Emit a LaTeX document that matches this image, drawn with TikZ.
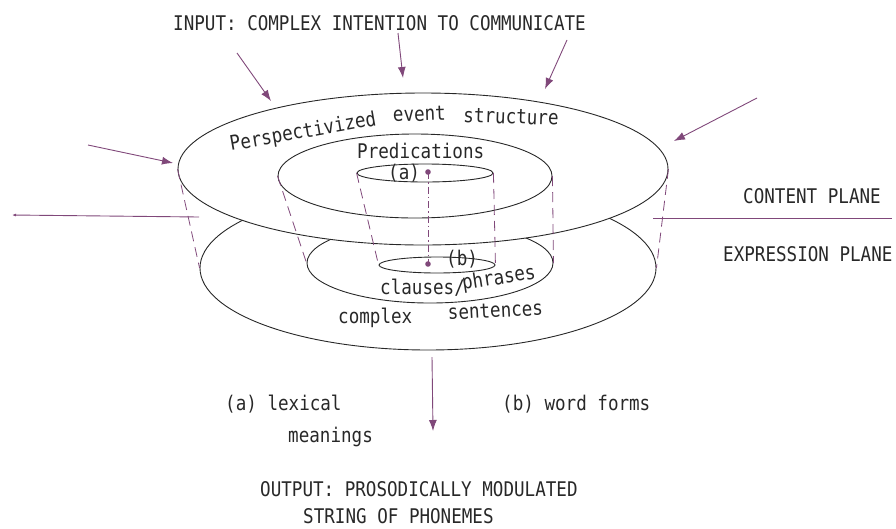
\documentclass[tikz,border=0pt]{standalone}
\usepackage{fontspec}
\newfontfamily\typewriter[FakeStretch=0.87]{DejaVu Sans Mono}
\usetikzlibrary{shapes.geometric,arrows.meta}

\definecolor{inkpurple}{RGB}{128,72,122}
\definecolor{pencil}{RGB}{40,40,40}

\tikzset{
    disk/.style={ellipse, draw=pencil, line width=0.9pt, inner sep=0pt},
    plane/.style={inkpurple, line width=0.9pt},
    inarrow/.style={plane, -{Latex[length=11pt,width=8pt]}},
    rim/.style={inkpurple, line width=0.8pt, dash pattern=on 10pt off 6pt},
    axis/.style={inkpurple, line width=1pt, dash pattern=on 7pt off 3pt on 1.5pt off 3pt},
    typed/.style={font=\typewriter\fontsize{20.2}{24}\selectfont, text=pencil, inner sep=0pt, anchor=base west},
}

\begin{document}
\begin{tikzpicture}[x=1pt,y=-1pt]
                \useasboundingbox (0,0) rectangle (896,528);

                % expression plane (lower layer)
                \node[disk, minimum width=456pt, minimum height=164pt] (BotOuter) at (428,268) {};
                \node[disk, minimum width=246pt, minimum height=80pt] (BotMid) at (430,263) {};
                \node[disk, minimum width=116pt, minimum height=16pt] (BotIn) at (437,265) {};

                % content plane (upper layer), covers the back of the lower one
                \node[disk, fill=white, minimum width=490pt, minimum height=152pt] (TopOuter) at (423,169) {};
                \node[disk, minimum width=274pt, minimum height=84pt] (TopMid) at (415,176) {};
                \node[disk, minimum width=136pt, minimum height=18pt] (TopIn) at (425,173) {};

                % rims between the two planes
                \foreach \ring in {Outer, Mid, In} {
                    \draw[rim] (Top\ring.west) -- (Bot\ring.west);
                    \draw[rim] (Top\ring.east) -- (Bot\ring.east);
                }

                \coordinate (DotA) at (428,172);
                \coordinate (DotB) at (428,264);
                \draw[axis] (DotA) -- (DotB);
                \fill[inkpurple] (DotA) circle (2.8);
                \fill[inkpurple] (DotB) circle (2.8);

                % input arrows
                \def\inArrow#1#2#3{
                    \coordinate (#1s) at #2;
                    \coordinate (#1e) at #3;
                    \draw[inarrow] (#1s) -- (#1e);
                }
                \inArrow{InA}{(237,53)}{(271,101)}
                \inArrow{InB}{(398,33)}{(403,78)}
                \inArrow{InC}{(567,40)}{(545,89)}
                \inArrow{InD}{(88,145)}{(173,163)}
                \inArrow{InE}{(757,98)}{(674,141)}

                % plane separators and output
                \coordinate (SepLa) at (199,217);
                \coordinate (SepLb) at (12,215);
                \coordinate (SepRa) at (653,218);
                \coordinate (SepRb) at (892,218);
                \draw[plane, -{Latex[length=4pt,width=3pt]}] (SepLa) -- (SepLb);
                \draw[plane] (SepRa) -- (SepRb);
                \coordinate (OutS) at (432,357);
                \coordinate (OutE) at (433,431);
                \draw[inarrow] (OutS) -- (OutE);

                % texts
                \node[typed] (input) at (173,30) {INPUT: COMPLEX INTENTION TO COMMUNICATE};
                \node[typed, rotate=10] (persp) at (231,151) {Perspectivized};
                \node[typed, rotate=2] (event) at (393,122) {event};
                \node[typed, rotate=-2] (struct) at (463,122) {structure};
                \node[typed] (pred) at (357,158) {Predications};
                \node[typed] (labA) at (388,179) {(a)};
                \node[typed] (labB) at (446,265) {(b)};
                \node[typed] (clauses) at (380,294) {clauses/};
                \node[typed, rotate=9] (phrases) at (463,290) {phrases};
                \node[typed] (complex) at (338,323) {complex};
                \node[typed, rotate=3] (sent) at (448,320) {sentences};
                \node[typed] (content) at (743,203) {CONTENT PLANE};
                \node[typed] (expr) at (723,261) {EXPRESSION PLANE};
                \node[typed] (lexical) at (225,410) {(a) lexical};
                \node[typed] (meanings) at (288,442) {meanings};
                \node[typed] (wordf) at (502,410) {(b) word forms};
                \node[typed] (outA) at (260,496) {OUTPUT: PROSODICALLY MODULATED};
                \node[typed] (outB) at (303,523) {STRING OF PHONEMES};
\end{tikzpicture}
\end{document}
